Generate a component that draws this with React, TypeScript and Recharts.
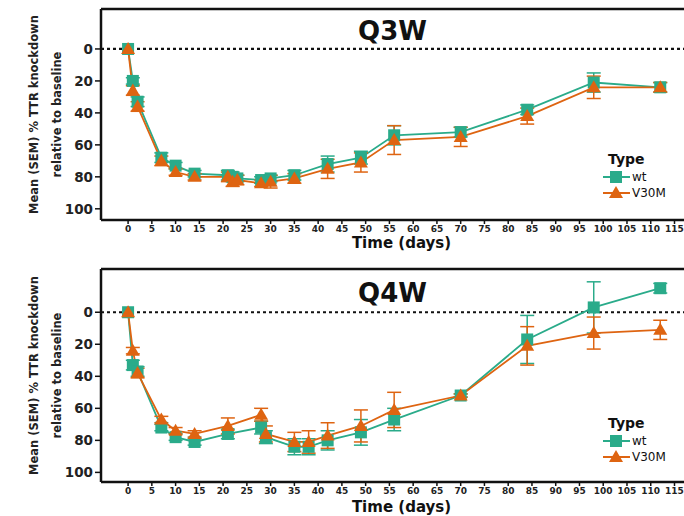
import { LineChart, Line, XAxis, YAxis, ReferenceLine, ErrorBar, Legend } from "recharts";

const WT_COLOR = "#2aab8a";
const V30M_COLOR = "#de6411";
const FONT = "'DejaVu Sans', 'Liberation Sans', Arial, sans-serif";

const X_TICKS = [0, 5, 10, 15, 20, 25, 30, 35, 40, 45, 50, 55, 60, 65, 70, 75, 80, 85, 90, 95, 100, 105, 110, 115];
const Y_TICKS = [0, 20, 40, 60, 80, 100];
const SERIES_ORDER = ["wt", "V30M"];

// Q3W panel
const q3wDays = [0, 1, 2, 7, 10, 14, 21, 22, 23, 28, 30, 35, 42, 49, 56, 70, 84, 98, 112];
const q3wWt = [0, 20, 33, 68, 73, 78, 79, 80, 81, 82, 81, 79, 72, 68, 54, 52, 38, 21, 24];
const q3wWtSem = [0, 2, 3, 3, 2, 2, 3, 3, 2, 2, 2, 3, 5, 4, 6, 3, 3, 6, 3];
const q3wV30m = [0, 26, 36, 70, 77, 80, 80, 83, 82, 84, 83, 81, 75, 71, 57, 55, 42, 24, 24];
const q3wV30mSem = [0, 3, 3, 3, 2, 2, 3, 3, 3, 2, 4, 3, 6, 6, 9, 6, 5, 7, 3];

// Q4W panel
const q4wDays = [0, 1, 2, 7, 10, 14, 21, 28, 29, 35, 38, 42, 49, 56, 70, 84, 98, 112];
const q4wWt = [0, 33, 37, 72, 78, 81, 76, 72, 78, 84, 84, 80, 75, 67, 52, 17, -3, -15];
const q4wWtSem = [0, 3, 3, 2, 2, 2, 3, 4, 4, 5, 5, 6, 8, 7, 1, 15, 16, 3];
const q4wV30m = [0, 24, 38, 67, 74, 76, 71, 64, 76, 81, 81, 77, 71, 61, 52, 21, 13, 11];
const q4wV30mSem = [0, 2, 3, 2, 2, 2, 5, 4, 5, 6, 7, 8, 10, 11, 1, 12, 10, 6];

const buildRows = (days: number[], wt: number[], wtSem: number[], v: number[], vSem: number[]) =>
  days.map((day, i) => ({ day, wt: wt[i], wtErr: wtSem[i], v30m: v[i], v30mErr: vSem[i] }));

const q3wRows = buildRows(q3wDays, q3wWt, q3wWtSem, q3wV30m, q3wV30mSem);
const q4wRows = buildRows(q4wDays, q4wWt, q4wWtSem, q4wV30m, q4wV30mSem);

const SquareDot = (props: any) => {
  const { cx, cy, index } = props;
  if (cx == null || cy == null) return <g key={index} />;
  return <rect key={index} x={cx - 6} y={cy - 6} width={12} height={12} fill={WT_COLOR} />;
};

const TriangleDot = (props: any) => {
  const { cx, cy, index } = props;
  if (cx == null || cy == null) return <g key={index} />;
  return (
    <polygon
      key={index}
      points={`${cx},${cy - 7} ${cx - 7},${cy + 5} ${cx + 7},${cy + 5}`}
      fill={V30M_COLOR}
    />
  );
};

const renderLegend = (props: any) => {
  const items = [...(props.payload ?? [])].sort(
    (a: any, b: any) => SERIES_ORDER.indexOf(a.value) - SERIES_ORDER.indexOf(b.value)
  );
  return (
    <div style={{ fontFamily: FONT, color: "#111" }}>
      <div style={{ fontSize: 14, fontWeight: "bold", marginLeft: 5, lineHeight: "20px" }}>Type</div>
      {items.map((entry: any) => {
        const isWt = entry.value === "wt";
        return (
          <div key={entry.value} style={{ display: "flex", alignItems: "center", height: 16 }}>
            <svg width={27} height={14}>
              <line x1={0} x2={27} y1={7} y2={7} stroke={entry.color} strokeWidth={2} />
              {isWt ? (
                <rect x={7} y={1} width={12} height={12} fill={WT_COLOR} />
              ) : (
                <polygon points="13,0 6,12 20,12" fill={V30M_COLOR} />
              )}
            </svg>
            <span style={{ fontSize: 12, marginLeft: 2 }}>{entry.value}</span>
          </div>
        );
      })}
    </div>
  );
};

type PanelProps = {
  title: string;
  rows: any[];
  yDomain: [number, number];
  marginTop: number;
  axisHeight: number;
  titleOffset: number;
  xTitleOffset: number;
  legendTop: number;
};

function Panel({ title, rows, yDomain, marginTop, axisHeight, titleOffset, xTitleOffset, legendTop }: PanelProps) {
  return (
    <LineChart width={684} height={258} data={rows} margin={{ top: marginTop, right: 0, bottom: 0, left: 0 }}>
      <XAxis
        dataKey="day"
        type="number"
        domain={[-5.7, 117]}
        ticks={X_TICKS}
        interval={0}
        allowDataOverflow
        height={axisHeight}
        tickSize={4}
        tickLine={{ stroke: "#111", strokeWidth: 1.5 }}
        axisLine={{ stroke: "#111", strokeWidth: 2.5 }}
        tick={{ fontSize: 9, fontWeight: "bold", fill: "#222", fontFamily: FONT }}
        label={{
          content: (p: any) => {
            const vb = p.viewBox || { x: 101, y: 220, width: 583 };
            return (
              <text
                x={vb.x + vb.width / 2 + 9}
                y={vb.y + xTitleOffset}
                textAnchor="middle"
                fontSize={15}
                fontWeight="bold"
                fontFamily={FONT}
                fill="#111"
              >
                Time (days)
              </text>
            );
          },
        }}
      />
      <YAxis
        type="number"
        reversed
        domain={yDomain}
        ticks={Y_TICKS}
        allowDataOverflow
        width={101}
        tickSize={6}
        tickLine={{ stroke: "#111", strokeWidth: 1.5 }}
        axisLine={{ stroke: "#111", strokeWidth: 2.5 }}
        tick={{ fontSize: 13.5, fontWeight: "bold", fill: "#222", fontFamily: FONT }}
        label={{
          content: (p: any) => {
            const vb = p.viewBox || { y: marginTop, height: 211 };
            const cy = vb.y + vb.height / 2;
            return (
              <g fontFamily={FONT} fontWeight="bold" fontSize={11.5} fill="#222">
                <text x={34} y={cy} transform={`rotate(-90 34 ${cy})`} textAnchor="middle" dominantBaseline="central">
                  Mean (SEM) % TTR knockdown
                </text>
                <text x={57} y={cy} transform={`rotate(-90 57 ${cy})`} textAnchor="middle" dominantBaseline="central">
                  relative to baseline
                </text>
              </g>
            );
          },
        }}
      />
      {/* top frame line of the panel, carrying the panel title */}
      <ReferenceLine
        y={yDomain[0]}
        stroke="#111"
        strokeWidth={2.5}
        label={{
          content: (p: any) => {
            const vb = p.viewBox || { x: 101, y: marginTop, width: 583 };
            return (
              <text
                x={vb.x + (vb.width || 583) / 2}
                y={vb.y + titleOffset}
                textAnchor="middle"
                fontSize={26}
                fontWeight="bold"
                fontFamily={FONT}
                fill="#111"
              >
                {title}
              </text>
            );
          },
        }}
      />
      <ReferenceLine y={0} stroke="#111" strokeWidth={2.2} strokeDasharray="3 3" />
      <Line
        name="wt"
        dataKey="wt"
        type="linear"
        stroke={WT_COLOR}
        strokeWidth={1.8}
        dot={SquareDot}
        activeDot={false}
        isAnimationActive={false}
      >
        <ErrorBar dataKey="wtErr" direction="y" width={7} stroke={WT_COLOR} strokeWidth={1.5} />
      </Line>
      <Line
        name="V30M"
        dataKey="v30m"
        type="linear"
        stroke={V30M_COLOR}
        strokeWidth={1.8}
        dot={TriangleDot}
        activeDot={false}
        isAnimationActive={false}
      >
        <ErrorBar dataKey="v30mErr" direction="y" width={7} stroke={V30M_COLOR} strokeWidth={1.5} />
      </Line>
      <Legend
        layout="vertical"
        align="center"
        verticalAlign="middle"
        content={renderLegend}
        wrapperStyle={{ left: 603, top: legendTop, width: 80 }}
      />
    </LineChart>
  );
}

export default function App() {
  return (
    <div style={{ position: "absolute", left: 0, top: 0, width: 684, height: 516, background: "#fff" }}>
      <Panel
        title="Q3W"
        rows={q3wRows}
        yDomain={[-25, 107]}
        marginTop={9}
        axisHeight={38}
        titleOffset={30.5}
        xTitleOffset={28}
        legendTop={149}
      />
      <Panel
        title="Q4W"
        rows={q4wRows}
        yDomain={[-27, 106]}
        marginTop={11}
        axisHeight={34}
        titleOffset={32.5}
        xTitleOffset={30}
        legendTop={155}
      />
    </div>
  );
}
